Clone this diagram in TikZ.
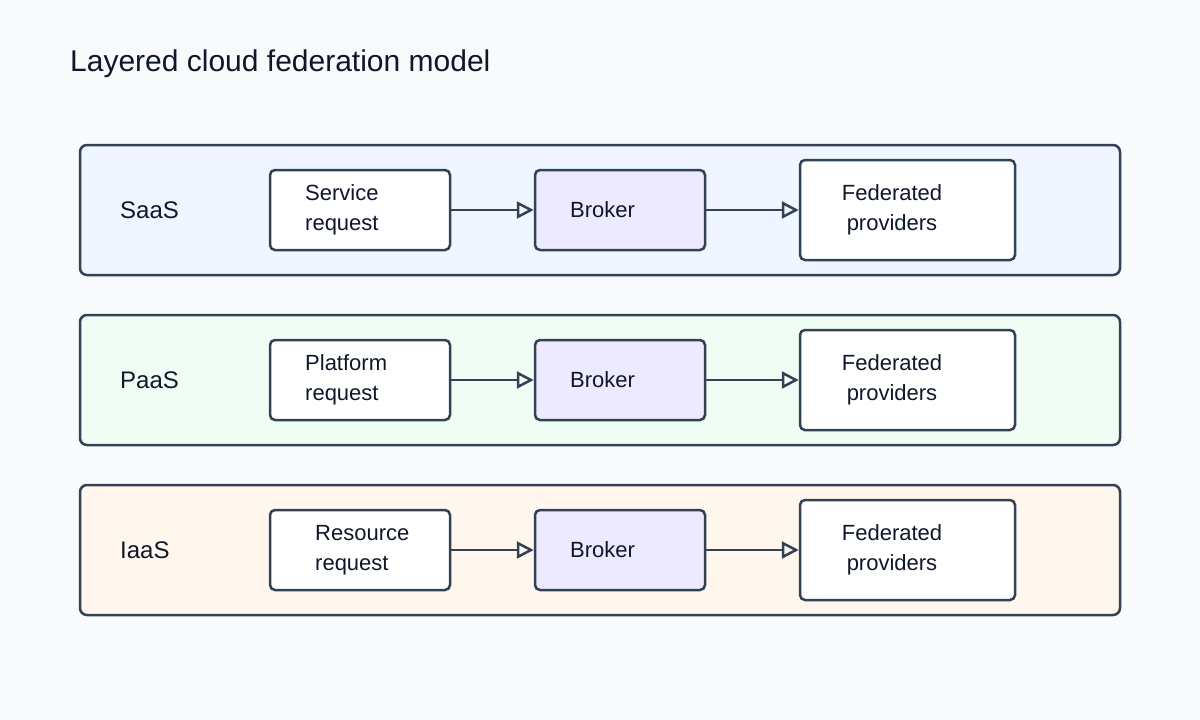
\documentclass[tikz,border=0pt]{standalone}
\usepackage{fontspec}
\setmainfont{Liberation Sans}
\usetikzlibrary{arrows.meta}
\definecolor{bg}{HTML}{F8FAFC}
\definecolor{ln}{HTML}{334155}
\definecolor{tx}{HTML}{0F172A}
\definecolor{saas}{HTML}{EFF6FF}
\definecolor{paas}{HTML}{F0FDF4}
\definecolor{iaas}{HTML}{FFF7ED}
\definecolor{brk}{HTML}{EDE9FE}
\begin{document}
\begin{tikzpicture}[x=1pt,y=-1pt,
  layer/.style={draw=ln,line width=2.5pt,rounded corners=7pt},
  box/.style={draw=ln,line width=2.5pt,rounded corners=5pt,fill=white},
  lbl/.style={font=\fontsize{24}{28}\selectfont,text=tx,anchor=west,inner sep=0},
  txt/.style={font=\fontsize{22}{30}\selectfont,text=tx,inner sep=0},
  arr/.style={draw=ln,line width=2.5pt,-{Triangle[open,length=17pt,width=17pt,line width=2.5pt]}}]
\fill[bg] (0,0) rectangle (1200,720);
\node[anchor=west,inner sep=0,text=tx,font=\fontsize{30}{36}\selectfont] (title) at (70,64) {Layered cloud federation model};
\foreach \i/\name/\col/\reqA/\reqB/\rx in {0/SaaS/saas/Service/request/305,1/PaaS/paas/Platform/request/305,2/IaaS/iaas/Resource/request/315}{
  \pgfmathsetmacro{\y}{210+170*\i}
  \node[layer,fill=\col,minimum width=1040pt,minimum height=130pt,anchor=center] (L\i) at (600,\y) {};
  \node[lbl] (N\i) at (120,\y) {\name};
  \node[box,minimum width=180pt,minimum height=80pt] (R\i) at (360,\y) {};
  \node[txt,anchor=west,align=left] (RT\i) at (\rx,\y) {\reqA\\\reqB};
  \node[box,fill=brk,minimum width=170pt,minimum height=80pt] (B\i) at (620,\y) {};
  \node[txt,anchor=west] (BT\i) at (570,\y) {Broker};
  \node[box,minimum width=215pt,minimum height=100pt] (F\i) at (907.5,\y) {};
  \node[txt,align=center] (FT\i) at (892,\y) {Federated\\providers};
  \draw[arr] (R\i.east) -- (B\i.west);
  \draw[arr] (B\i.east) -- (F\i.west);
}
\end{tikzpicture}
\end{document}
